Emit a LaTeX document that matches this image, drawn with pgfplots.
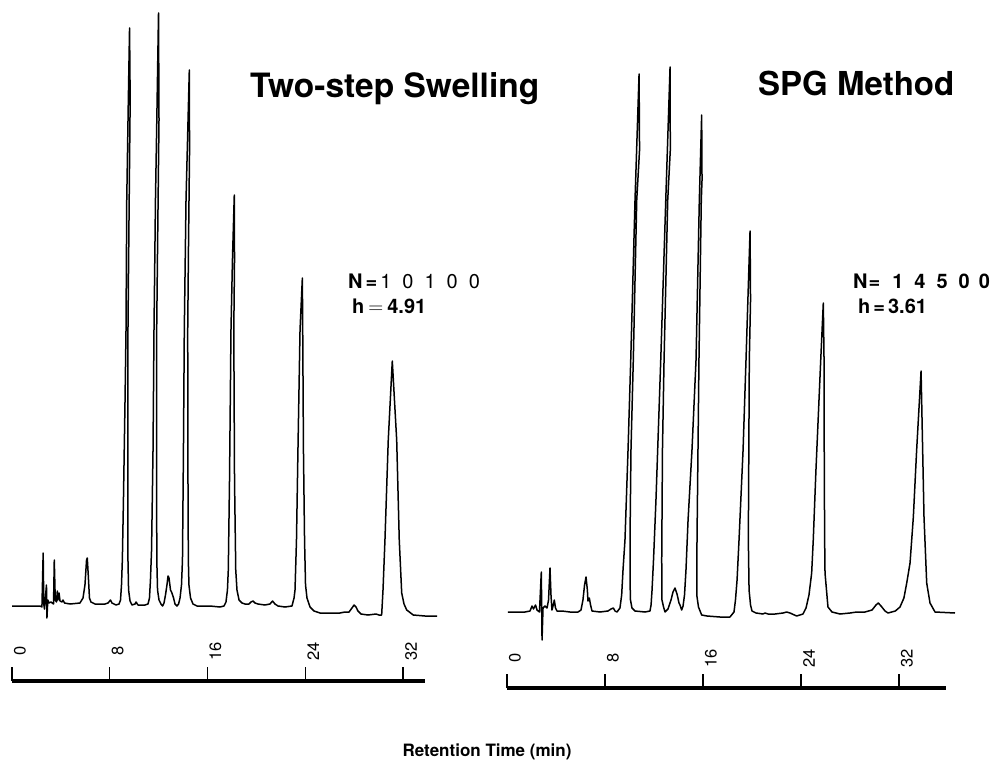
\documentclass[border=0pt]{standalone}
\usepackage{fontspec}
\setmainfont{TeX Gyre Heros}
\usepackage{pgfplots}
\pgfplotsset{compat=1.18}

% chromatograms: t = retention time (min), s = detector signal (arb. units)
\pgfplotstableread{
t s
0.00 1
1.47 1
2.29 1
2.45 0
2.55 54
2.60 3
2.66 -2
2.82 22
2.86 -11
2.93 7
3.03 4
3.19 5
3.40 3
3.46 47
3.54 7
3.64 5
3.71 16
3.76 7
3.85 14
3.93 6
4.09 5
4.17 7
4.30 4
4.75 3
5.56 4
5.81 9
5.97 22
6.10 47
6.16 49
6.24 32
6.34 9
6.46 5
6.79 3
7.61 3
7.86 4
8.06 7
8.18 4
8.51 2
8.76 3
8.88 7
8.96 22
9.03 47
9.12 107
9.25 207
9.33 277
9.39 407
9.52 507
9.62 579
9.67 507
9.59 407
9.49 277
9.48 157
9.49 47
9.54 17
9.66 6
9.82 2
10.07 3
10.15 5
10.31 2
10.88 2
11.13 3
11.25 9
11.33 27
11.42 57
11.54 157
11.62 277
11.74 407
11.85 487
11.99 594
12.03 487
11.91 357
11.84 277
11.83 157
11.85 47
11.91 17
12.03 7
12.19 3
12.32 1
12.44 4
12.56 12
12.68 22
12.77 31
12.85 29
12.97 17
13.09 14
13.22 9
13.34 3
13.50 1
13.63 3
13.75 9
13.87 22
13.95 47
14.03 157
14.10 277
14.24 407
14.51 537
14.53 457
14.44 357
14.38 277
14.39 157
14.43 47
14.48 22
14.61 9
14.81 3
15.14 1
16.20 1
17.02 0
17.35 1
17.51 5
17.63 17
17.70 37
17.80 127
17.92 277
18.04 347
18.19 412
18.21 347
18.15 277
18.21 127
18.31 37
18.41 17
18.58 7
18.82 4
19.07 3
19.39 3
19.56 5
19.72 6
19.89 4
20.13 3
20.70 2
21.11 3
21.32 6
21.52 3
21.77 1
22.34 0
22.91 1
23.08 9
23.16 17
23.28 67
23.40 157
23.57 277
23.76 329
23.79 277
23.85 157
23.94 67
24.02 22
24.14 9
24.39 0
24.71 -4
25.20 -6
26.84 -6
27.25 -5
27.58 -5
27.82 -1
27.99 2
28.15 0
28.31 -4
28.56 -7
29.13 -8
29.79 -7
30.03 -8
30.25 -8
30.36 17
30.52 67
30.79 167
31.12 246
31.48 167
31.69 67
31.89 14
32.08 3
32.30 -3
32.84 -8
33.80 -9
34.78 -9
}\swelling

\pgfplotstableread{
t s
0.08 0
1.47 0
1.88 1
2.04 6
2.16 3
2.33 7
2.45 2
2.65 0
2.80 40
2.86 -28
2.94 4
3.10 6
3.27 4
3.39 12
3.51 44
3.59 17
3.67 2
3.80 8
3.86 12
3.96 4
4.08 1
4.49 1
5.14 0
5.80 0
6.04 2
6.20 12
6.33 27
6.45 35
6.56 22
6.61 11
6.72 14
6.82 7
6.94 1
7.59 0
8.24 1
8.49 3
8.68 4
8.82 1
8.98 0
9.22 4
9.36 17
9.47 42
9.63 72
9.88 162
10.10 252
10.45 412
10.78 538
10.82 462
10.59 412
10.31 252
10.12 162
10.04 72
10.04 32
10.08 12
10.20 4
10.45 1
11.27 0
11.67 1
11.76 7
11.84 22
11.96 52
12.16 112
12.55 252
12.96 412
13.31 545
13.33 462
13.12 412
12.82 252
12.69 162
12.63 52
12.65 12
12.78 5
12.90 0
13.14 3
13.39 12
13.55 20
13.71 24
13.88 18
14.04 9
14.12 7
14.26 2
14.37 6
14.49 17
14.61 42
14.78 92
15.10 162
15.43 252
15.70 412
15.89 497
15.92 432
15.86 412
15.67 252
15.59 162
15.51 72
15.49 17
15.63 5
15.89 -3
16.33 -4
17.39 -5
18.20 -5
18.53 0
18.65 12
18.78 32
18.94 72
19.27 162
19.51 252
19.84 381
19.88 312
19.78 252
19.74 162
19.70 72
19.76 22
19.88 7
20.00 1
20.33 -1
20.90 -2
21.06 -1
21.31 -2
21.88 -2
22.53 -1
22.83 0
23.10 -1
23.65 -4
24.16 -2
24.41 4
24.65 17
24.87 39
25.00 72
25.22 142
25.61 252
25.82 309
25.88 252
25.90 142
25.93 72
25.96 39
26.20 5
26.53 0
27.18 -2
28.00 -1
28.55 0
29.22 0
29.80 2
30.12 7
30.31 9
30.53 6
30.86 1
31.10 -1
31.70 1
32.08 5
32.40 14
32.63 29
32.90 49
33.17 95
33.44 162
33.80 241
33.93 162
34.04 95
34.26 29
34.53 9
34.94 0
36.57 -1
}\spg

\pgfplotsset{
  chrom/.style={
    y=1pt,
    clip=false,
    axis x line*=bottom,
    axis y line=none,
    x axis line style={line width=4pt, line cap=butt},
    xtick={0,8,16,24,32},
    xticklabels={0,8,16,24,32},
    xtick align=inside,
    major tick length=14pt,
    every tick/.style={black, line width=1.3pt},
    xticklabel style={font=\fontsize{16.5}{16.5}\selectfont, xshift=8pt, yshift=30pt, rotate=90, anchor=center},
    ymax=600,
  },
  trace/.style={black, line width=1.5pt, line join=round},
}

\begin{document}
\begin{tikzpicture}
\useasboundingbox (0pt,0pt) rectangle (1003pt,-760pt);

\begin{axis}[chrom, x=12.22pt, xmin=0, xmax=33.8, ymin=-74,
  at={(12pt,-681pt)}, anchor=south west]
\addplot[trace] table[x=t, y=s] {\swelling};
\end{axis}

\begin{axis}[chrom, x=12.25pt, xmin=0, xmax=35.84, ymin=-76,
  at={(507pt,-688pt)}, anchor=south west]
\addplot[trace] table[x=t, y=s] {\spg};
\end{axis}

\node[anchor=base west, inner sep=0pt] at (250pt,-97pt)
  {\fontsize{33.5}{33.5}\selectfont\bfseries Two-step Swelling};
\node[anchor=base west, inner sep=0pt] at (758pt,-95pt)
  {\fontsize{33}{33}\selectfont\bfseries SPG Method};

\node[anchor=base west, inner sep=0pt] at (348pt,-288pt)
  {\fontsize{20}{20}\selectfont\bfseries N\hspace{3pt}=\hspace{3pt}\mdseries 1\hspace{11pt}0\hspace{11pt}1\hspace{11pt}0\hspace{11pt}0};
\node[anchor=base west, inner sep=0pt] at (352pt,-313pt)
  {\fontsize{20}{20}\selectfont\bfseries h\hspace{4pt}{\mdseries$=$}\hspace{4pt}4.91};

\node[anchor=base west, inner sep=0pt] at (853pt,-288pt)
  {\fontsize{20}{20}\selectfont\bfseries N\hspace{1pt}=\hspace{12pt}1\hspace{11pt}4\hspace{11pt}5\hspace{11pt}0\hspace{9pt}0};
\node[anchor=base west, inner sep=0pt] at (858pt,-313pt)
  {\fontsize{20}{20}\selectfont\bfseries h\hspace{3pt}=\hspace{3pt}3.61};

\node[anchor=base, inner sep=0pt] at (487pt,-756pt)
  {\fontsize{17}{17}\selectfont\bfseries Retention Time (min)};
\end{tikzpicture}
\end{document}
